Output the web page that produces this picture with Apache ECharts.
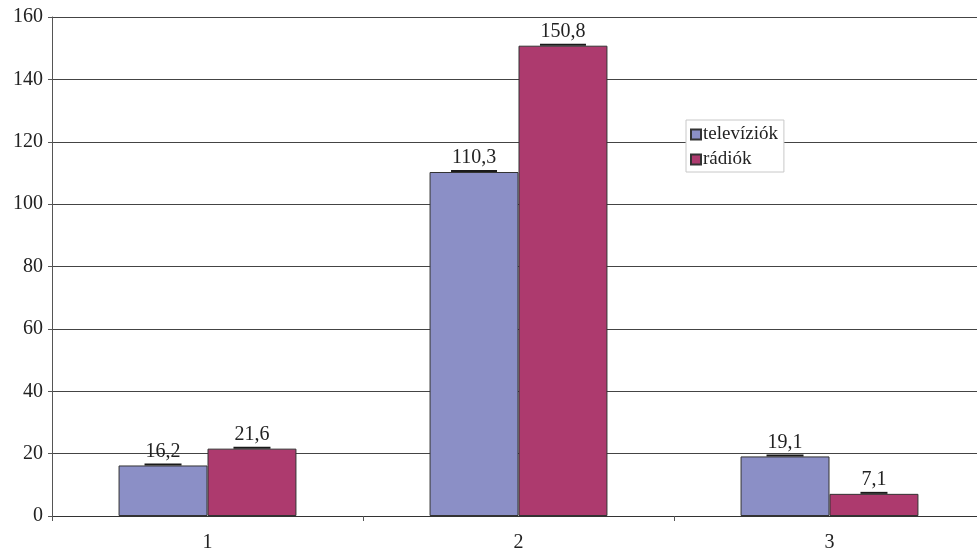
<!DOCTYPE html>
<html><head><meta charset="utf-8">
<script src="https://cdn.jsdelivr.net/npm/echarts@6/dist/echarts.min.js"></script>
<style>html,body{margin:0;padding:0;background:#fff}#c{width:977px;height:551px}</style>
</head><body><div id="c"></div>
<script>
const categories = ['1', '2', '3'];
const seriesNames = ['televíziók', 'rádiók'];
const tvValues = [16.2, 110.3, 19.1];
const radioValues = [21.6, 150.8, 7.1];
const yTicks = [0, 20, 40, 60, 80, 100, 120, 140, 160];

const FONT = '"Liberation Serif", "DejaVu Serif", serif';
const chart = echarts.init(document.getElementById('c'));
function lbl() {
  return {
    show: true, position: 'top', distance: 0,
    formatter: p => { const s = String(p.value).replace('.', ','); return '{v|' + s + '}\n{u' + s.length + '|}'; },
    rich: {
      v: { fontFamily: FONT, fontSize: 20, color: '#222', lineHeight: 24, padding: [0,0,0,0] },
      u3: { backgroundColor: '#1a1a1a', width: 27, height: 2, lineHeight: 2 },
      u4: { backgroundColor: '#1a1a1a', width: 37, height: 2, lineHeight: 2 },
      u5: { backgroundColor: '#1a1a1a', width: 46, height: 2, lineHeight: 2 }
    }
  };
}
chart.setOption({
  animation: false,
  backgroundColor: '#fff',
  grid: { left: 52, right: -8, top: 17, bottom: 35, outerBoundsMode: 'none', containLabel: false },
  legend: {
    orient: 'vertical', left: 686, top: 120,
    data: seriesNames,
    itemWidth: 10, itemHeight: 10, itemGap: 6,
    backgroundColor: '#fff', borderColor: '#c8c8c8', borderWidth: 1,
    padding: [5, 6, 3, 4],
    icon: 'rect',
    textStyle: { fontFamily: FONT, fontSize: 19, color: '#222', padding: [0,0,0,-3] }
  },
  xAxis: {
    type: 'category', data: categories,
    axisLine: { lineStyle: { color: '#333', width: 1 } },
    axisTick: { show: true, length: 5, lineStyle: { color: '#555' } },
    axisLabel: { fontFamily: FONT, fontSize: 20, color: '#222', margin: 17 }
  },
  yAxis: {
    type: 'value', min: yTicks[0], max: yTicks[yTicks.length-1], interval: 20,
    axisLine: { show: true, lineStyle: { color: '#555' } },
    axisTick: { show: true, length: 4, lineStyle: { color: '#555' } },
    axisLabel: { fontFamily: FONT, fontSize: 20, color: '#222', margin: 9 },
    splitLine: { lineStyle: { color: '#444', width: 1 } }
  },
  series: [
    { name: seriesNames[0], type: 'bar', data: tvValues, barGap: '0%', barCategoryGap: '42.8%',
      itemStyle: { color: '#8b8fc6', borderColor: '#333', borderWidth: 1 }, label: lbl() },
    { name: seriesNames[1], type: 'bar', data: radioValues,
      itemStyle: { color: '#ad3a6e', borderColor: '#333', borderWidth: 1 }, label: lbl() }
  ]
});
</script></body></html>
